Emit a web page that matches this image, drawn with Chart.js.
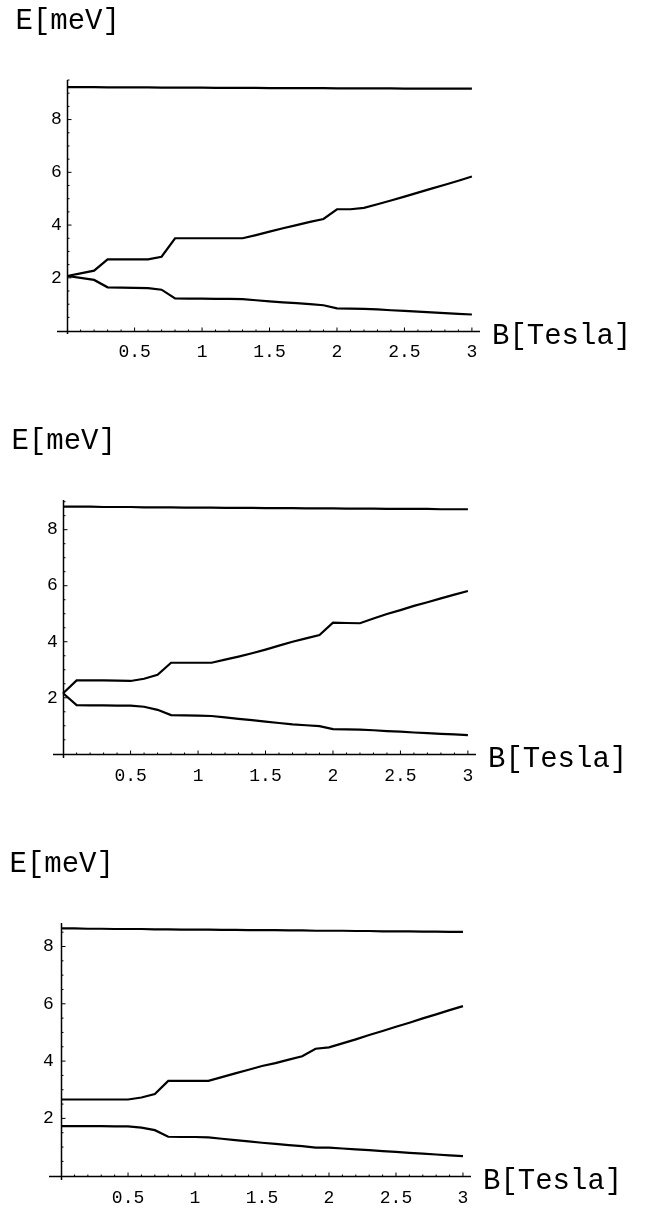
<!DOCTYPE html>
<html>
<head>
<meta charset="utf-8">
<script src="https://cdn.jsdelivr.net/npm/chart.js@4.4.1/dist/chart.umd.min.js"></script>
<style>
  body { margin: 0; background: #fff; }
  canvas { position: absolute; left: 0; }
</style>
</head>
<body>
<canvas id="chart1" width="657" height="400" style="top:0px"></canvas>
<canvas id="chart2" width="657" height="400" style="top:400px"></canvas>
<canvas id="chart3" width="657" height="405" style="top:800px"></canvas>
<script>
// magnetic field grid (Tesla)
const bField = [0, 0.1, 0.2, 0.3, 0.4, 0.5, 0.6, 0.7, 0.8, 0.9, 1.0,
  1.1, 1.2, 1.3, 1.4, 1.5, 1.6, 1.7, 1.8, 1.9, 2.0,
  2.1, 2.2, 2.3, 2.4, 2.5, 2.6, 2.7, 2.8, 2.9, 3.0];

const xTicks = [0.5, 1, 1.5, 2, 2.5, 3];
const yTicks = [2, 4, 6, 8];

// panel 1
const top1 = [9.23, 9.23, 9.23, 9.22, 9.22, 9.22, 9.22, 9.21, 9.21, 9.21, 9.21,
  9.20, 9.20, 9.20, 9.20, 9.19, 9.19, 9.19, 9.19, 9.19, 9.18,
  9.18, 9.18, 9.18, 9.18, 9.17, 9.17, 9.17, 9.17, 9.17, 9.17];
const upper1 = [2.07, 2.17, 2.27, 2.70, 2.70, 2.70, 2.70, 2.80, 3.50, 3.50, 3.50,
  3.50, 3.50, 3.50, 3.62, 3.75, 3.88, 4.00, 4.12, 4.23, 4.60,
  4.60, 4.65, 4.79, 4.93, 5.08, 5.23, 5.38, 5.53, 5.68, 5.84];
const lower1 = [2.07, 2.00, 1.92, 1.64, 1.63, 1.62, 1.61, 1.55, 1.22, 1.21, 1.21,
  1.20, 1.20, 1.19, 1.15, 1.11, 1.07, 1.04, 1.00, 0.96, 0.84,
  0.83, 0.82, 0.80, 0.77, 0.75, 0.72, 0.69, 0.66, 0.63, 0.61];

// panel 2
const top2 = [8.82, 8.82, 8.82, 8.81, 8.81, 8.81, 8.80, 8.80, 8.80, 8.79, 8.79,
  8.79, 8.78, 8.78, 8.78, 8.77, 8.77, 8.77, 8.76, 8.76, 8.76,
  8.75, 8.75, 8.75, 8.74, 8.74, 8.74, 8.74, 8.73, 8.73, 8.73];
const upper2 = [2.16, 2.62, 2.62, 2.62, 2.61, 2.60, 2.68, 2.82, 3.25, 3.25, 3.25,
  3.25, 3.36, 3.47, 3.59, 3.72, 3.86, 4.00, 4.12, 4.24, 4.68,
  4.67, 4.66, 4.83, 4.99, 5.13, 5.28, 5.41, 5.55, 5.68, 5.81];
const lower2 = [2.16, 1.74, 1.73, 1.73, 1.72, 1.72, 1.68, 1.57, 1.38, 1.37, 1.36,
  1.35, 1.30, 1.25, 1.20, 1.15, 1.10, 1.05, 1.02, 0.99, 0.88,
  0.87, 0.86, 0.84, 0.81, 0.79, 0.76, 0.74, 0.71, 0.69, 0.67];

// panel 3
const top3 = [8.63, 8.63, 8.62, 8.62, 8.61, 8.61, 8.61, 8.60, 8.60, 8.59, 8.59,
  8.59, 8.58, 8.58, 8.57, 8.57, 8.57, 8.56, 8.56, 8.55, 8.55,
  8.55, 8.54, 8.54, 8.53, 8.53, 8.53, 8.52, 8.52, 8.51, 8.51];
const upper3 = [2.66, 2.66, 2.66, 2.66, 2.66, 2.66, 2.73, 2.85, 3.31, 3.31, 3.31,
  3.31, 3.44, 3.57, 3.70, 3.83, 3.93, 4.05, 4.17, 4.43, 4.48,
  4.62, 4.76, 4.91, 5.05, 5.20, 5.34, 5.49, 5.63, 5.78, 5.92];
const lower3 = [1.73, 1.73, 1.73, 1.73, 1.72, 1.72, 1.68, 1.59, 1.36, 1.35, 1.35,
  1.34, 1.29, 1.24, 1.20, 1.15, 1.11, 1.07, 1.03, 0.98, 0.98,
  0.95, 0.92, 0.89, 0.86, 0.83, 0.80, 0.77, 0.74, 0.71, 0.68];

const monoFont = "'Courier New', 'Liberation Mono', monospace";

// draws axes crossing at the origin, Mathematica style, plus the axis titles
const originAxes = {
  id: "originAxes",
  afterDraw(chart, args, opts) {
    const ctx = chart.ctx;
    const area = chart.chartArea;
    const xs = chart.scales.x;
    const ys = chart.scales.y;
    const x0 = Math.round(xs.getPixelForValue(0)) + 0.5;
    const y0 = Math.round(ys.getPixelForValue(0)) + 0.5;

    ctx.save();
    ctx.strokeStyle = "#000";
    ctx.lineWidth = 1.5;
    ctx.beginPath();
    ctx.moveTo(area.left, y0);
    ctx.lineTo(area.right, y0);
    ctx.moveTo(x0, area.top);
    ctx.lineTo(x0, area.bottom);
    ctx.stroke();

    // tick marks pointing into the plot
    ctx.lineWidth = 1;
    ctx.beginPath();
    for (let i = 1; i <= 30; i++) {
      const px = xs.getPixelForValue(i / 10);
      const len = i % 5 === 0 ? 4 : 2;
      ctx.moveTo(px, y0);
      ctx.lineTo(px, y0 - len);
    }
    for (let j = 1; j * 0.5 <= ys.max; j++) {
      const py = ys.getPixelForValue(j * 0.5);
      const len = j % 4 === 0 ? 4 : 2;
      ctx.moveTo(x0, py);
      ctx.lineTo(x0 + len, py);
    }
    ctx.stroke();

    ctx.fillStyle = "#000";
    ctx.font = "29px " + monoFont;
    ctx.textBaseline = "alphabetic";
    ctx.textAlign = "left";
    ctx.fillText(opts.yTitle, x0 - 52, area.top - 51);
    ctx.fillText(opts.xTitle, area.right + 12, y0 + 12);
    ctx.restore();
  },
};

const makeChart = (id, top, upper, lower, xRange, yRange, pad) => {
  const ctx = document.getElementById(id).getContext("2d");
  const line = (label, values) => ({
    label: label,
    data: values,
    borderColor: "#000",
    borderWidth: 2.2,
    pointRadius: 0,
    tension: 0,
    fill: false,
  });
  return new Chart(ctx, {
    type: "line",
    data: {
      labels: bField,
      datasets: [line("top", top), line("upper", upper), line("lower", lower)],
    },
    options: {
      responsive: false,
      animation: false,
      layout: { padding: { left: pad.left, right: pad.right, top: pad.top, bottom: 0 } },
      scales: {
        x: {
          type: "linear",
          min: xRange[0],
          max: xRange[1],
          grid: { display: false },
          border: { display: false },
          afterBuildTicks: (s) => { s.ticks = xTicks.map((v) => ({ value: v })); },
          afterFit: (s) => { s.height = pad.bottom; },
          ticks: {
            color: "#000",
            padding: -1,
            maxRotation: 0,
            autoSkip: false,
            font: { family: monoFont, size: 18 },
            callback: (v) => String(v),
          },
        },
        y: {
          type: "linear",
          min: yRange[0],
          max: yRange[1],
          grid: { display: false },
          border: { display: false },
          afterBuildTicks: (s) => { s.ticks = yTicks.map((v) => ({ value: v })); },
          afterFit: (s) => { s.width = 0; },
          ticks: {
            color: "#000",
            mirror: true,
            padding: -6,
            font: { family: monoFont, size: 18 },
            callback: (v) => String(v),
          },
        },
      },
      plugins: {
        legend: { display: false },
        tooltip: { enabled: false },
        originAxes: { xTitle: "B[Tesla]", yTitle: "E[meV]" },
      },
    },
    plugins: [originAxes],
  });
};

makeChart("chart1", top1, upper1, lower1, [-0.075, 3.06], [-0.13, 9.5],
  { left: 57, right: 177, top: 80, bottom: 66 });
makeChart("chart2", top2, upper2, lower2, [-0.075, 3.06], [-0.15, 9.06],
  { left: 53, right: 181, top: 100, bottom: 42 });
makeChart("chart3", top3, upper3, lower3, [-0.09, 3.06], [-0.15, 8.82],
  { left: 49, right: 186, top: 123, bottom: 25 });
</script>
</body>
</html>
